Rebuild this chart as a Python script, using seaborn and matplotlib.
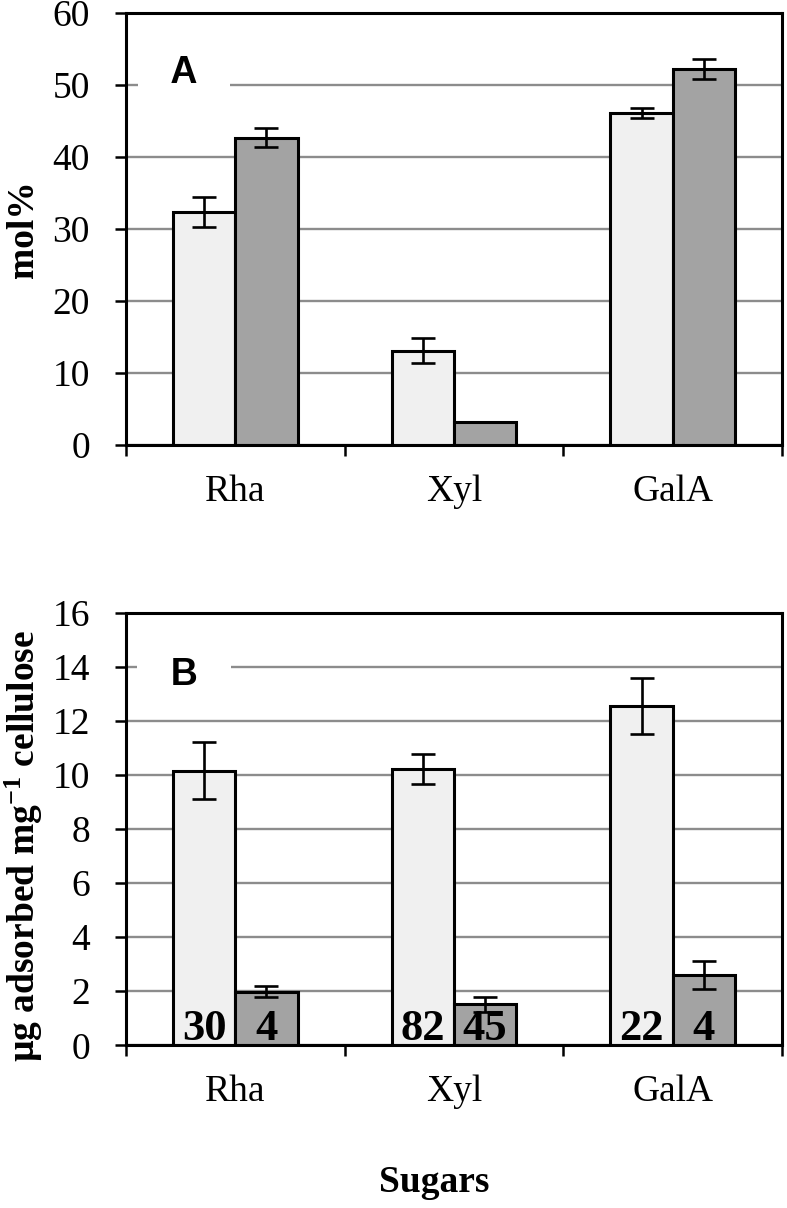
import matplotlib
matplotlib.use("Agg")
import matplotlib.pyplot as plt
import seaborn as sns
import pandas as pd
import numpy as np

# ---------------- data ----------------
sugars = ["Rha", "Xyl", "GalA"]
series = ["light", "dark"]

mol_light = [32.4, 13.1, 46.1]
mol_light_err = [2.1, 1.7, 0.7]
mol_dark = [42.7, 3.2, 52.2]
mol_dark_err = [1.3, 0.0, 1.4]

ads_light = [10.15, 10.22, 12.55]
ads_light_err = [1.05, 0.55, 1.03]
ads_dark = [1.98, 1.52, 2.60]
ads_dark_err = [0.20, 0.27, 0.52]

pct_light = ["30", "82", "22"]
pct_dark = ["4", "45", "4"]

mol_ticks = [0, 10, 20, 30, 40, 50, 60]
ads_ticks = [0, 2, 4, 6, 8, 10, 12, 14, 16]

# ---------------- style ----------------
sns.set_theme(style="white")
plt.rcParams["font.family"] = ["Liberation Serif", "DejaVu Serif"]
plt.rcParams["mathtext.fontset"] = "custom"
plt.rcParams["mathtext.rm"] = "Liberation Serif:bold"
plt.rcParams["mathtext.bf"] = "Liberation Serif:bold"
plt.rcParams["mathtext.it"] = "Liberation Serif:bold:italic"
for k in ["text.color", "axes.labelcolor", "xtick.color", "ytick.color"]:
    plt.rcParams[k] = "black"

LIGHT = "#f0f0f0"
DARK = "#a3a3a3"
GRID = "#8c8c8c"

fig = plt.figure(figsize=(7.87, 12.08), dpi=100)
W, H = 787, 1208


def px_axes(left, top, right, bottom):
    return fig.add_axes([left / W, 1 - bottom / H, (right - left) / W, (bottom - top) / H])


axA = px_axes(126, 13, 782, 445)
axB = px_axes(126, 612.7, 782, 1045.3)


def panel(ax, light, light_err, dark, dark_err, ticks, ylabel, letter, letter_y,
          label_xy, inner=None):
    df = pd.DataFrame({
        "sugar": sugars * 2,
        "series": [series[0]] * 3 + [series[1]] * 3,
        "value": list(light) + list(dark),
    })
    sns.barplot(data=df, x="sugar", y="value", hue="series", order=sugars,
                hue_order=series, palette=[LIGHT, DARK], width=0.57,
                edgecolor="black", linewidth=2.2, errorbar=None, legend=False,
                ax=ax, zorder=2)
    for cont, errs in zip(ax.containers, [light_err, dark_err]):
        for bar, e in zip(cont, errs):
            if e <= 0:
                continue
            cx = bar.get_x() + bar.get_width() / 2
            ax.errorbar(cx, bar.get_height(), yerr=e, fmt="none", ecolor="black",
                        elinewidth=1.9, capsize=8.5, capthick=1.9, zorder=3)
    if inner is not None:
        for cont, labels in zip(ax.containers, inner):
            for bar, t in zip(cont, labels):
                cx = bar.get_x() + bar.get_width() / 2
                ax.annotate(t, xy=(cx, 0), xytext=(0, 3.5), textcoords="offset points",
                            ha="center", va="baseline", fontsize=32,
                            fontweight="bold", color="black", zorder=5)

    ax.set_xlim(-0.5, 2.5)
    ax.set_ylim(ticks[0], ticks[-1])
    ax.set_yticks(ticks)
    ax.set_yticklabels([str(t) for t in ticks], fontsize=27)
    ax.set_xticks(range(len(sugars)))
    ax.set_xticklabels(sugars, fontsize=27)
    ax.set_xticks([-0.5, 0.5, 1.5, 2.5], minor=True)
    ax.tick_params(axis="x", which="major", length=0, pad=21, colors="black")
    ax.tick_params(axis="x", which="minor", bottom=True, direction="out",
                   length=8, width=1.8, color="black")
    ax.tick_params(axis="y", which="major", left=True, direction="out",
                   length=8, width=1.8, pad=18, colors="black")
    ax.yaxis.grid(True, color=GRID, linewidth=1.7)
    ax.xaxis.grid(False)
    ax.set_axisbelow(True)
    for s in ax.spines.values():
        s.set_visible(True)
        s.set_color("black")
        s.set_linewidth(2.2)
    ax.set_xlabel("")
    ax.set_ylabel(ylabel, fontsize=27, fontweight="bold")
    ax.yaxis.label.set_va("center")
    ax.yaxis.set_label_coords(*label_xy)
    ax.text(-0.235, letter_y, "  " + letter + "  ", fontfamily="Liberation Sans",
            fontweight="bold", fontsize=27, ha="center", va="center", zorder=4,
            color="black",
            bbox=dict(boxstyle="square,pad=0.35", fc="white", ec="none"))


panel(axA, mol_light, mol_light_err, mol_dark, mol_dark_err, mol_ticks,
      "mol%", "A", 51.7, (-0.157, 0.5))
panel(axB, ads_light, ads_light_err, ads_dark, ads_dark_err, ads_ticks,
      r"µg adsorbed mg$^{-1}$ cellulose", "B", 13.7, (-0.155, 0.46),
      inner=[pct_light, pct_dark])

fig.text(434 / W, 1 - 1183 / H, "Sugars", ha="center", va="center",
         fontsize=27, fontweight="bold")

fig.savefig("out.png", dpi=100, facecolor="white")
